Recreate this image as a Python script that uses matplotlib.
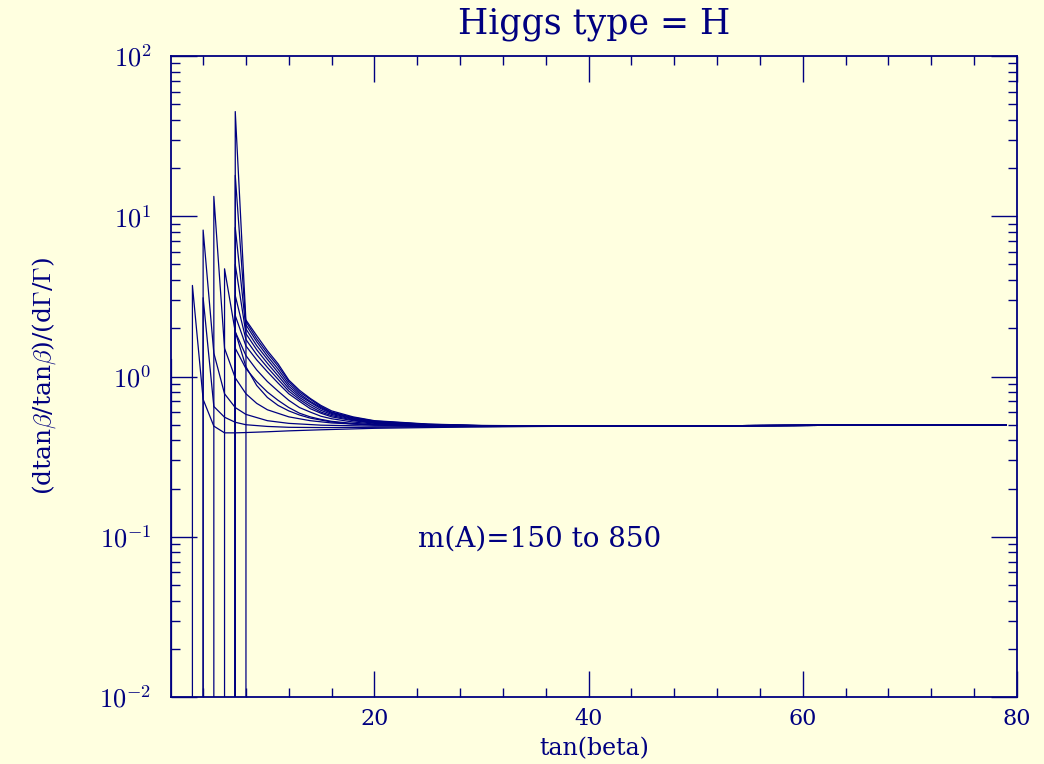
import matplotlib
matplotlib.use('Agg')
import matplotlib.pyplot as plt
from matplotlib.ticker import FixedLocator, FixedFormatter, MultipleLocator, LogLocator, NullFormatter

plt.rcParams['font.family'] = 'serif'
plt.rcParams['font.serif'] = ['DejaVu Serif']
plt.rcParams['mathtext.fontset'] = 'cm'

# each curve: tan(beta) points and ratio values; first point is below the plot floor
tb_01 = [1, 1]
r_01 = [1e-4, 1.28]
tb_02 = [3, 3, 4, 5, 6, 7, 8, 10, 12, 15, 20, 25, 30, 40, 79]
r_02 = [1e-4, 3.7, 0.72, 0.49, 0.445, 0.445, 0.447, 0.452, 0.458, 0.465, 0.475, 0.48, 0.485, 0.49, 0.5]
tb_03 = [4, 4, 5, 6, 7, 8, 10, 12, 15, 20, 30, 40, 79]
r_03 = [1e-4, 3.1, 0.65, 0.557, 0.518, 0.5, 0.488, 0.482, 0.48, 0.482, 0.487, 0.49, 0.5]
tb_04 = [4, 4, 5, 6, 7, 8, 10, 12, 15, 20, 30, 40, 79]
r_04 = [1e-4, 8.2, 1.4, 0.78, 0.64, 0.58, 0.53, 0.51, 0.497, 0.49, 0.488, 0.49, 0.5]
tb_05 = [5, 5, 6, 7, 8, 9, 10, 12, 14, 16, 20, 25, 30, 40, 79]
r_05 = [1e-4, 13.3, 1.5, 0.98, 0.78, 0.68, 0.62, 0.56, 0.53, 0.513, 0.498, 0.49, 0.488, 0.49, 0.5]
tb_06 = [6, 6, 7, 8, 9, 10, 11, 12, 13, 14, 16, 18, 20, 25, 30, 40, 79]
r_06 = [1e-4, 4.7, 1.9, 1.15, 0.88, 0.74, 0.66, 0.61, 0.575, 0.55, 0.52, 0.505, 0.498, 0.49, 0.488, 0.49, 0.5]

tb_7 = [7, 7, 8, 9, 10, 11, 12, 13, 14, 15, 16, 18, 20, 25, 30, 40, 79]
r_07 = [1e-4, 45, 2.2, 1.72, 1.4, 1.16, 0.93, 0.8, 0.72, 0.65, 0.6, 0.555, 0.527, 0.503, 0.494, 0.49, 0.5]
r_08 = [1e-4, 18, 2.1, 1.65, 1.34, 1.11, 0.9, 0.78, 0.7, 0.64, 0.595, 0.55, 0.524, 0.502, 0.493, 0.49, 0.5]
r_09 = [1e-4, 8.5, 1.98, 1.56, 1.28, 1.06, 0.87, 0.76, 0.69, 0.63, 0.588, 0.545, 0.52, 0.5, 0.492, 0.49, 0.5]
r_10 = [1e-4, 5.0, 1.85, 1.47, 1.21, 1.01, 0.84, 0.74, 0.67, 0.615, 0.58, 0.54, 0.517, 0.5, 0.492, 0.49, 0.5]
r_11 = [1e-4, 3.2, 1.7, 1.37, 1.14, 0.96, 0.81, 0.72, 0.65, 0.6, 0.57, 0.535, 0.513, 0.498, 0.491, 0.49, 0.5]
r_12 = [1e-4, 2.4, 1.55, 1.27, 1.07, 0.91, 0.78, 0.7, 0.63, 0.59, 0.56, 0.53, 0.51, 0.497, 0.49, 0.49, 0.5]
r_13 = [1e-4, 1.9, 1.35, 1.1, 0.93, 0.81, 0.71, 0.64, 0.6, 0.565, 0.545, 0.52, 0.505, 0.495, 0.49, 0.49, 0.5]
r_14 = [1e-4, 1.5, 1.12, 0.93, 0.8, 0.71, 0.64, 0.59, 0.56, 0.54, 0.525, 0.51, 0.5, 0.492, 0.489, 0.49, 0.5]

tb_15 = [8, 8, 9, 10, 11, 12, 13, 14, 15, 16, 18, 20, 25, 30, 40, 79]
r_15 = [1e-4, 2.25, 1.8, 1.45, 1.2, 0.95, 0.82, 0.73, 0.66, 0.61, 0.56, 0.53, 0.505, 0.495, 0.49, 0.5]

ytick_vals = [1e-2, 1e-1, 1e0, 1e1, 1e2]
ytick_labels = [r'$10^{-2}$', r'$10^{-1}$', r'$10^{0}$', r'$10^{1}$', r'$10^{2}$']
xtick_vals = [20, 40, 60, 80]

navy = '#000080'
bg = '#ffffe0'

fig = plt.figure(figsize=(10.44, 7.64), dpi=100, facecolor=bg)
ax = fig.add_axes([171/1044, 1-697/764, (1017-171)/1044, (697-56)/764])
ax.set_facecolor(bg)

curves = [(tb_01, r_01), (tb_02, r_02), (tb_03, r_03), (tb_04, r_04), (tb_05, r_05), (tb_06, r_06),
          (tb_7, r_07), (tb_7, r_08), (tb_7, r_09), (tb_7, r_10), (tb_7, r_11), (tb_7, r_12),
          (tb_7, r_13), (tb_7, r_14), (tb_15, r_15)]
for xs, ys in curves:
    ax.plot(xs, ys, color=navy, lw=0.9)

ax.set_yscale('log')
ax.set_xlim(1, 80)
ax.set_ylim(1e-2, 1e2)

ax.yaxis.set_major_locator(FixedLocator(ytick_vals))
ax.yaxis.set_major_formatter(FixedFormatter(ytick_labels))
ax.yaxis.set_minor_locator(LogLocator(base=10, subs=range(2, 10)))
ax.yaxis.set_minor_formatter(NullFormatter())
ax.xaxis.set_major_locator(FixedLocator(xtick_vals))
ax.xaxis.set_minor_locator(MultipleLocator(4))

ax.tick_params(which='both', direction='in', top=True, right=True, colors=navy, width=1.0)
ax.tick_params(which='major', length=19)
ax.tick_params(which='minor', length=6.5)
ax.tick_params(axis='x', which='major', labelsize=16, pad=8)
ax.tick_params(axis='y', which='major', labelsize=19, pad=14)
for s in ax.spines.values():
    s.set_color(navy)
    s.set_linewidth(1.3)

ax.set_title('Higgs type = H', fontsize=25, color=navy, pad=16)
ax.set_xlabel('tan(beta)', fontsize=17, color=navy, labelpad=5)
ax.set_ylabel(r'(dtan$\beta$/tan$\beta$)/(d$\Gamma$/$\Gamma$)', fontsize=18, color=navy, labelpad=30)
ax.text(24.1, 0.097, 'm(A)=150 to 850', fontsize=20, color=navy, va='center')

fig.savefig('out.png', dpi=100, facecolor=bg)
